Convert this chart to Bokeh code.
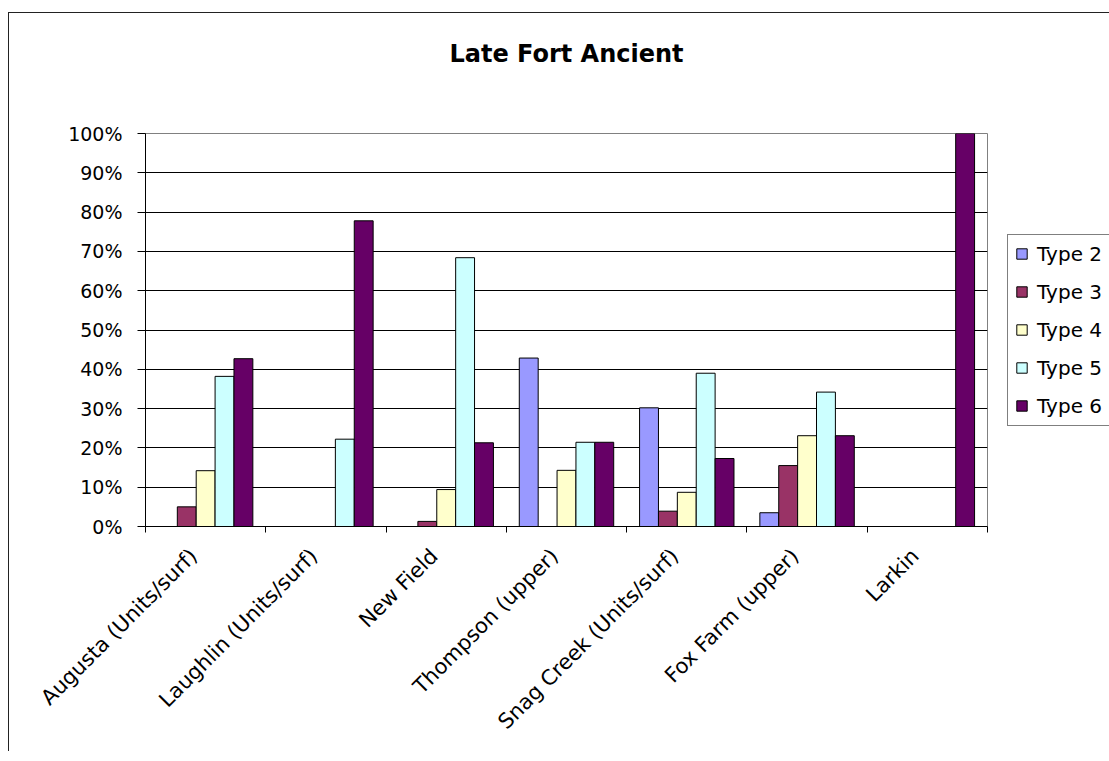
import math
from bokeh.plotting import figure
from bokeh.models import (Range1d, LinearAxis, FixedTicker,
                          NumeralTickFormatter, Legend, LegendItem, ColumnDataSource)
from bokeh.transform import dodge
from bokeh.embed import file_html
from bokeh.resources import INLINE

# ---- data (shares, 0..1) ----
categories = ["Augusta (Units/surf)", "Laughlin (Units/surf)", "New Field", "Thompson (upper)",
              "Snag Creek (Units/surf)", "Fox Farm (upper)", "Larkin"]
series_names = ["Type 2", "Type 3", "Type 4", "Type 5", "Type 6"]
type2 = [0.0, 0.0, 0.0, 0.4286, 0.302, 0.035, 0.0]
type3 = [0.05, 0.0, 0.013, 0.0, 0.039, 0.155, 0.0]
type4 = [0.142, 0.0, 0.094, 0.1429, 0.087, 0.231, 0.0]
type5 = [0.382, 0.2222, 0.684, 0.2143, 0.39, 0.342, 0.0]
type6 = [0.427, 0.7778, 0.213, 0.2143, 0.173, 0.231, 1.0]
y_ticks = [0.0, 0.1, 0.2, 0.3, 0.4, 0.5, 0.6, 0.7, 0.8, 0.9, 1.0]
title_text = "Late Fort Ancient"

colors = ["#9999FF", "#993366", "#FFFFCC", "#CCFFFF", "#660066"]
FONT = "DejaVu Sans"
FRAME_W, FRAME_H = 842, 393

n = len(categories)
centers = [i + 0.5 for i in range(n)]          # category slot centres on a 0..n axis
bounds = [float(i) for i in range(n + 1)]      # category slot boundaries
label_pos = [c - 0.1 for c in centers]         # rotated label anchors (Excel-like placement)

source = ColumnDataSource(dict(pos=centers, category=categories,
                               t2=type2, t3=type3, t4=type4, t5=type5, t6=type6))
keys = ["t2", "t3", "t4", "t5", "t6"]

p = figure(x_range=Range1d(0, n), y_range=Range1d(0, 1),
           frame_width=FRAME_W, frame_height=FRAME_H,
           min_border_left=136, min_border_top=120, min_border_right=120, min_border_bottom=225,
           x_axis_location=None, output_backend="svg", toolbar_location=None,
           background_fill_color="white", border_fill_color="white")
p.styles = {"border-left": "1.5px solid #222", "border-top": "1.5px solid #222",
            "margin-top": "12px", "margin-left": "8px"}

p.outline_line_color = "#808080"
p.outline_line_width = 1

bar_w = 0.157
renderers = []
for i, (key, col) in enumerate(zip(keys, colors)):
    r = p.vbar(x=dodge("pos", (i - 2) * bar_w), top=key, width=bar_w,
               source=source, fill_color=col, line_color="black", line_width=1)
    renderers.append(r)

# axis with ticks at the category boundaries (Excel style)
tick_axis = LinearAxis(ticker=FixedTicker(ticks=bounds),
                       major_label_overrides={b: "" for b in bounds},
                       major_label_text_font_size="1px", major_tick_out=6, major_tick_in=0,
                       minor_tick_line_color=None, axis_line_color="black", axis_line_width=1,
                       major_label_standoff=0)
p.add_layout(tick_axis, "below")
# axis carrying the category names
label_axis = LinearAxis(ticker=FixedTicker(ticks=label_pos),
                        major_label_overrides={c: name for c, name in zip(label_pos, categories)},
                        axis_line_color=None, major_tick_line_color=None, minor_tick_line_color=None,
                        major_label_orientation=math.pi / 4, major_label_text_font_size="21px",
                        major_label_text_font=FONT, major_label_text_color="black",
                        major_label_standoff=14)
p.add_layout(label_axis, "below")

# chart title, carried as the label of a tick-less axis above the plot area
title_axis = LinearAxis(ticker=FixedTicker(ticks=[]), axis_label=title_text,
                        axis_line_color=None, major_tick_line_color=None, minor_tick_line_color=None,
                        major_tick_out=0, major_tick_in=0, major_label_standoff=0,
                        axis_label_standoff=66, axis_label_text_font=FONT,
                        axis_label_text_font_size="24px", axis_label_text_font_style="bold",
                        axis_label_text_color="black")
p.add_layout(title_axis, "above")

p.xgrid.grid_line_color = None
p.ygrid.ticker = FixedTicker(ticks=y_ticks[1:-1])
p.ygrid.grid_line_color = "black"
p.ygrid.grid_line_width = 1

p.yaxis.ticker = FixedTicker(ticks=y_ticks)
p.yaxis.formatter = NumeralTickFormatter(format="0%")
p.yaxis.major_tick_out = 8
p.yaxis.major_tick_in = 0
p.yaxis.minor_tick_line_color = None
p.yaxis.axis_line_color = "black"
p.yaxis.major_tick_line_color = "black"
p.yaxis.major_label_text_font = FONT
p.yaxis.major_label_text_font_size = "19px"
p.yaxis.major_label_text_color = "black"
p.yaxis.major_label_standoff = 15

legend = Legend(items=[LegendItem(label=nm, renderers=[r]) for nm, r in zip(series_names, renderers)],
                location="center_left", margin=20, padding=7, spacing=14,
                glyph_width=13, glyph_height=13, label_height=20, label_standoff=9,
                label_text_font=FONT, label_text_font_size="20px", label_text_color="black",
                border_line_color="black", border_line_width=1, background_fill_color="white")
p.add_layout(legend, "right")

open("out.html", "w").write(file_html(p, INLINE))
